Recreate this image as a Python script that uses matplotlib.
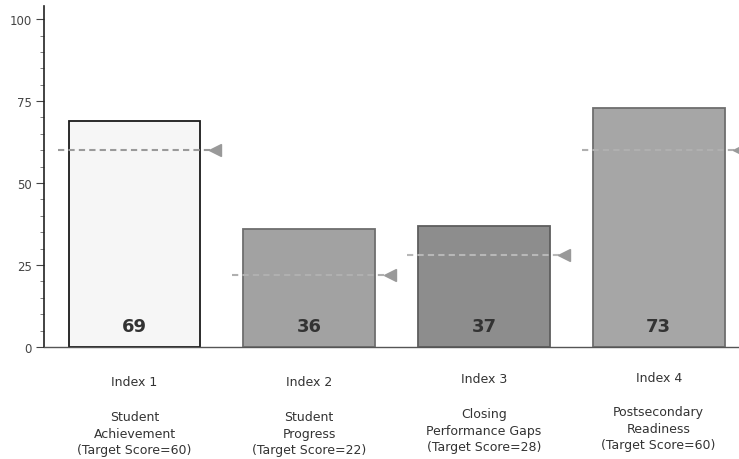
import matplotlib
matplotlib.use("Agg")
import matplotlib.pyplot as plt
from matplotlib.transforms import blended_transform_factory
from matplotlib.ticker import MultipleLocator

# Index scores and their targets
indexes = ["Index 1", "Index 2", "Index 3", "Index 4"]
descriptions = [
    ["Student", "Achievement", "(Target Score=60)"],
    ["Student", "Progress", "(Target Score=22)"],
    ["Closing", "Performance Gaps", "(Target Score=28)"],
    ["Postsecondary", "Readiness", "(Target Score=60)"],
]
scores = [69, 36, 37, 73]
targets = [60, 22, 28, 60]

bar_colors = ["#f6f6f6", "#a2a2a2", "#8d8d8d", "#a6a6a6"]
edge_colors = ["#1a1a1a", "#6e6e6e", "#5e5e5e", "#6e6e6e"]
target_colors = ["#9a9a9a", "#b0b0b0", "#b8b8b8", "#b0b0b0"]

W, H = 739, 460
fig = plt.figure(figsize=(W / 100, H / 100), dpi=100)
ax = fig.add_axes([44 / W, 1 - 348 / H, 1 - 44 / W, 341 / H])

x = list(range(len(scores)))
ax.bar(x, scores, width=0.755, color=bar_colors, edgecolor=edge_colors,
       linewidth=1.3, zorder=2)

for xi, s in zip(x, scores):
    ax.text(xi, 6.3, str(s), ha="center", va="center", fontsize=13,
            fontweight="bold", color="#333333", zorder=4)

# Target markers: dashed line across the bar ending in a left-pointing triangle
for xi, t, c in zip(x, targets, target_colors):
    ax.plot([xi - 0.44, xi + 0.45], [t, t], linestyle=(0, (3, 2)),
            color=c, linewidth=1.5, zorder=3)
    ax.plot([xi + 0.46], [t], marker="<", markersize=8, color="#999999",
            linestyle="none", zorder=3)

ax.set_xlim(-0.518, 3.46)
ax.set_ylim(0, 104)

for side in ("top", "right"):
    ax.spines[side].set_visible(False)
ax.spines["left"].set_color("#222222")
ax.spines["left"].set_linewidth(1.2)
ax.spines["bottom"].set_color("#555555")
ax.spines["bottom"].set_linewidth(1.0)

ax.set_xticks([])
ax.yaxis.set_major_locator(MultipleLocator(25))
ax.yaxis.set_minor_locator(MultipleLocator(5))
ax.tick_params(axis="y", which="major", length=6, width=0.8, color="#444444",
               labelsize=8.5, labelcolor="#444444", pad=3)
ax.tick_params(axis="y", which="minor", length=3, width=0.6, color="#666666")

# Category labels below the axis
trans = blended_transform_factory(ax.transData, fig.transFigure)
index_y = [383, 383, 380, 378]
desc_y = [418, 418, 415, 413]
line_gap = 16.5
for xi, name, desc, iy, dy in zip(x, indexes, descriptions, index_y, desc_y):
    ax.text(xi, 1 - iy / H, name, transform=trans, ha="center", va="center",
            fontsize=9, color="#333333")
    for k, line in enumerate(desc):
        ax.text(xi, 1 - (dy + k * line_gap) / H, line, transform=trans,
                ha="center", va="center", fontsize=9, color="#333333")

fig.savefig("out.png", dpi=100)
